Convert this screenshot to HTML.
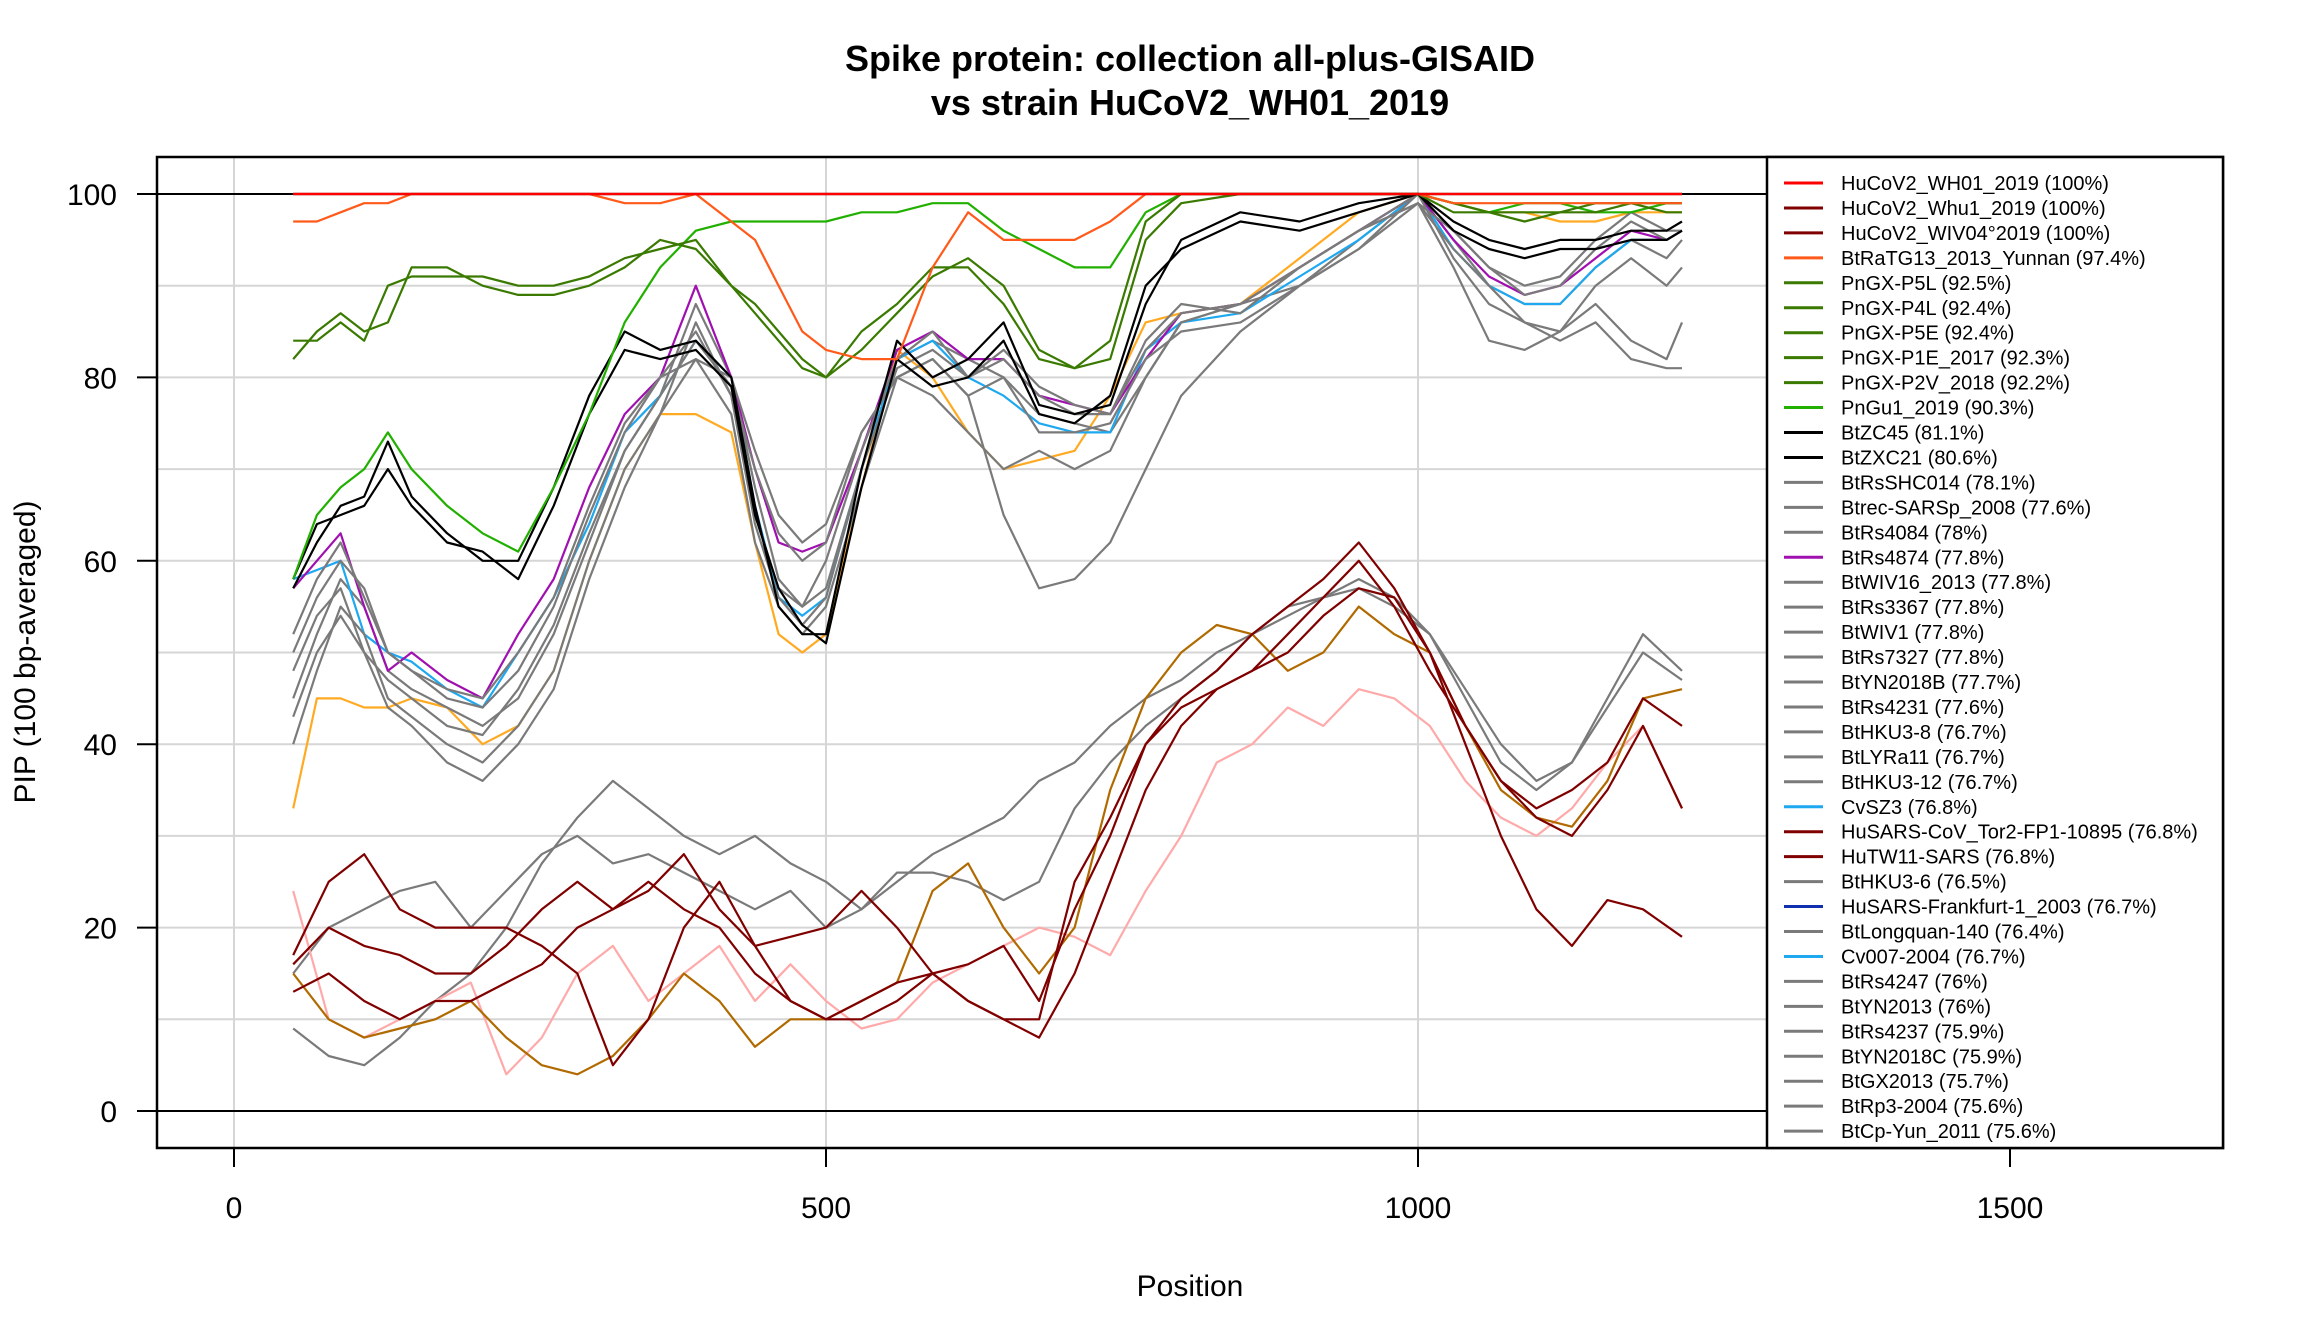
<!DOCTYPE html>
<html><head><meta charset="utf-8"><title>Spike protein PIP</title>
<style>
html,body{margin:0;padding:0;background:#fff;}
svg{display:block;font-family:"Liberation Sans",Arial,sans-serif;}
</style></head>
<body>
<svg id="chart" width="2304" height="1344" viewBox="0 0 2304 1344" xmlns="http://www.w3.org/2000/svg">
  <rect x="0" y="0" width="2304" height="1344" fill="#fff"/>
  <text x="1190" y="71" text-anchor="middle" font-size="36" font-weight="bold">Spike protein: collection all-plus-GISAID</text>
  <text x="1190" y="115" text-anchor="middle" font-size="36" font-weight="bold">vs strain HuCoV2_WH01_2019</text>
  <g id="grid"></g>
  <g id="series"></g>
  <g id="axes"></g>
  <g id="legend"></g>
  <text x="1190" y="1296" text-anchor="middle" font-size="30">Position</text>
  <text x="0" y="0" transform="translate(35,652) rotate(-90)" text-anchor="middle" font-size="30">PIP (100 bp-averaged)</text>
</svg>
<script>
// ---- data ----
const xTicks = [0, 500, 1000, 1500];
const yTicks = [0, 20, 40, 60, 80, 100];
const gridX = [0, 500, 1000, 1500];
const gridY = [10, 20, 30, 40, 50, 60, 70, 80, 90, 100];

const upperPos = [50,70,90,110,130,150,180,210,240,270,300,330,360,390,420,440,460,480,500,530,560,590,620,650,680,710,740,770,800,850,900,950,1000,1030,1060,1090,1120,1150,1180,1210,1223];
const lowerPos = [50,80,110,140,170,200,230,260,290,320,350,380,410,440,470,500,530,560,590,620,650,680,710,740,770,800,830,860,890,920,950,980,1010,1040,1070,1100,1130,1160,1190,1223];
const flatPos = [50, 1223];

const valWH01 = [100, 100];
const valWhu1 = [100, 100];
const valWIV04 = [100, 100];
const valRaTG13 = [97,97,98,99,99,100,100,100,100,100,100,99,99,100,97,95,90,85,83,82,82,92,98,95,95,95,97,100,100,100,100,100,100,99,99,99,99,99,99,99,99];
const valPnGX1 = [82,85,87,85,86,92,92,90,89,89,90,92,95,94,90,88,85,82,80,85,88,92,92,88,82,81,82,95,99,100,100,100,100,99,98,98,98,99,99,99,99];
const valPnGX2 = [84,84,86,84,90,91,91,91,90,90,91,93,94,95,90,87,84,81,80,83,87,91,93,90,83,81,84,97,100,100,100,100,100,98,98,97,98,98,99,98,98];
const valPnGu1 = [58,65,68,70,74,70,66,63,61,68,76,86,92,96,97,97,97,97,97,98,98,99,99,96,94,92,92,98,100,100,100,100,100,99,98,99,99,98,98,99,99];
const valZC45 = [57,62,66,67,73,67,63,60,60,68,78,85,83,84,80,66,55,52,52,70,84,80,82,86,77,76,77,88,95,98,97,99,100,97,95,94,95,95,96,96,97];
const valZXC21 = [58,64,65,66,70,66,62,61,58,66,76,83,82,83,79,65,57,53,51,68,82,79,80,84,76,75,78,90,94,97,96,98,100,96,94,93,94,94,95,95,96];
const valGray1 = [45,52,58,55,48,46,44,42,45,52,62,72,78,88,80,68,58,55,57,70,82,84,82,80,76,75,74,80,86,88,90,95,100,95,90,88,88,92,95,93,95];
const valGray2 = [50,56,60,57,50,48,45,44,48,55,65,74,80,85,78,65,57,55,60,72,82,85,80,82,78,76,76,84,88,87,92,96,99,96,92,89,90,94,97,95,96];
const valGray3 = [40,48,55,52,45,43,40,38,42,48,60,70,76,82,76,62,55,52,55,68,80,82,78,80,74,74,75,82,85,86,90,94,100,93,88,86,85,90,93,90,92];
const valGray4 = [48,54,57,50,47,45,42,41,46,53,63,72,78,84,79,70,63,60,62,74,80,82,78,65,57,58,62,70,78,85,90,94,99,92,84,83,85,88,84,82,86];
const valGray5 = [52,58,62,56,50,48,46,45,50,56,66,75,80,82,80,72,65,62,64,74,80,78,74,70,72,70,72,80,86,88,92,96,99,94,90,86,84,86,82,81,81];
const valGray6 = [43,50,54,50,44,42,38,36,40,46,58,68,76,86,78,64,56,53,56,70,81,83,80,83,79,77,76,83,87,88,92,96,100,96,92,90,91,95,98,96,96];
const valRs4874 = [57,60,63,55,48,50,47,45,52,58,68,76,80,90,80,70,62,61,62,72,83,85,82,82,78,77,76,82,87,88,92,96,100,95,91,89,90,93,96,95,96];
const valCvSZ3 = [58,59,60,52,50,49,46,44,50,56,64,74,78,84,80,66,56,54,56,70,82,84,80,78,75,74,74,83,86,87,91,95,100,94,90,88,88,92,95,95,96];
const valOrange = [33,45,45,44,44,45,44,40,42,48,60,70,76,76,74,62,52,50,52,68,83,80,74,70,71,72,78,86,87,88,93,98,100,99,98,98,97,97,98,98,98];
const valTor2 = [17,25,28,22,20,20,20,18,15,5,10,20,25,18,12,10,10,12,15,12,10,10,25,32,40,45,48,52,55,58,62,57,50,40,30,22,18,23,22,19];
const valTW11 = [13,15,12,10,12,12,14,16,20,22,25,22,20,15,12,10,12,14,15,12,10,8,15,25,35,42,46,48,50,54,57,56,50,42,36,32,30,35,42,33];
const valDR3 = [16,20,18,17,15,15,18,22,25,22,24,28,22,18,19,20,24,20,15,16,18,12,22,30,40,44,46,48,52,56,60,55,48,42,36,33,35,38,45,42];
const valBrown = [15,10,8,9,10,12,8,5,4,6,10,15,12,7,10,10,12,14,24,27,20,15,20,35,45,50,53,52,48,50,55,52,50,42,35,32,31,36,45,46];
const valPink = [24,10,8,10,12,14,4,8,15,18,12,15,18,12,16,12,9,10,14,16,18,20,19,17,24,30,38,40,44,42,46,45,42,36,32,30,33,38,42,33];
const valGrayL1 = [9,6,5,8,12,15,20,27,32,36,33,30,28,30,27,25,22,25,28,30,32,36,38,42,45,47,50,52,54,56,58,56,52,45,38,35,38,45,52,48];
const valGrayL2 = [15,20,22,24,25,20,24,28,30,27,28,26,24,22,24,20,22,26,26,25,23,25,33,38,42,45,48,52,55,56,57,55,52,46,40,36,38,44,50,47];

const legendLabels = ["HuCoV2_WH01_2019 (100%)","HuCoV2_Whu1_2019 (100%)","HuCoV2_WIV04°2019 (100%)","BtRaTG13_2013_Yunnan (97.4%)","PnGX-P5L (92.5%)","PnGX-P4L (92.4%)","PnGX-P5E (92.4%)","PnGX-P1E_2017 (92.3%)","PnGX-P2V_2018 (92.2%)","PnGu1_2019 (90.3%)","BtZC45 (81.1%)","BtZXC21 (80.6%)","BtRsSHC014 (78.1%)","Btrec-SARSp_2008 (77.6%)","BtRs4084 (78%)","BtRs4874 (77.8%)","BtWIV16_2013 (77.8%)","BtRs3367 (77.8%)","BtWIV1 (77.8%)","BtRs7327 (77.8%)","BtYN2018B (77.7%)","BtRs4231 (77.6%)","BtHKU3-8 (76.7%)","BtLYRa11 (76.7%)","BtHKU3-12 (76.7%)","CvSZ3 (76.8%)","HuSARS-CoV_Tor2-FP1-10895 (76.8%)","HuTW11-SARS (76.8%)","BtHKU3-6 (76.5%)","HuSARS-Frankfurt-1_2003 (76.7%)","BtLongquan-140 (76.4%)","Cv007-2004 (76.7%)","BtRs4247 (76%)","BtYN2013 (76%)","BtRs4237 (75.9%)","BtYN2018C (75.9%)","BtGX2013 (75.7%)","BtRp3-2004 (75.6%)","BtCp-Yun_2011 (75.6%)"];
const C = {red:"#ff0000", dred:"#800000", ored:"#ff5a1a", dgreen:"#3a7a00", bgreen:"#22b000", black:"#000000", gray:"#7a7a7a", purple:"#a010b0", blue:"#1ea8f0", navy:"#1030b0", orange:"#ffaa22", brown:"#b06a00", pink:"#ffaaaa"};
const legendColors = [C.red,C.dred,C.dred,C.ored,C.dgreen,C.dgreen,C.dgreen,C.dgreen,C.dgreen,C.bgreen,C.black,C.black,C.gray,C.gray,C.gray,C.purple,C.gray,C.gray,C.gray,C.gray,C.gray,C.gray,C.gray,C.gray,C.gray,C.blue,C.dred,C.dred,C.gray,C.navy,C.gray,C.blue,C.gray,C.gray,C.gray,C.gray,C.gray,C.gray,C.gray];

// draw order: bottom first
const seriesList = [
  {name:"series-btgray-low-1", pos:lowerPos, val:valGrayL1, color:C.gray},
  {name:"series-btgray-low-2", pos:lowerPos, val:valGrayL2, color:C.gray},
  {name:"series-pink", pos:lowerPos, val:valPink, color:C.pink},
  {name:"series-brown", pos:lowerPos, val:valBrown, color:C.brown},
  {name:"series-husars-3", pos:lowerPos, val:valDR3, color:C.dred},
  {name:"series-hutw11-sars", pos:lowerPos, val:valTW11, color:C.dred},
  {name:"series-husars-tor2", pos:lowerPos, val:valTor2, color:C.dred},
  {name:"series-orange", pos:upperPos, val:valOrange, color:C.orange},
  {name:"series-btgray-1", pos:upperPos, val:valGray1, color:C.gray},
  {name:"series-cvsz3", pos:upperPos, val:valCvSZ3, color:C.blue},
  {name:"series-btrs4874", pos:upperPos, val:valRs4874, color:C.purple},
  {name:"series-btgray-2", pos:upperPos, val:valGray2, color:C.gray},
  {name:"series-btgray-3", pos:upperPos, val:valGray3, color:C.gray},
  {name:"series-btgray-4", pos:upperPos, val:valGray4, color:C.gray},
  {name:"series-btgray-5", pos:upperPos, val:valGray5, color:C.gray},
  {name:"series-btgray-6", pos:upperPos, val:valGray6, color:C.gray},
  {name:"series-btzxc21", pos:upperPos, val:valZXC21, color:C.black},
  {name:"series-btzc45", pos:upperPos, val:valZC45, color:C.black},
  {name:"series-pngu1", pos:upperPos, val:valPnGu1, color:C.bgreen},
  {name:"series-pngx-a", pos:upperPos, val:valPnGX1, color:C.dgreen},
  {name:"series-pngx-b", pos:upperPos, val:valPnGX2, color:C.dgreen},
  {name:"series-ratg13", pos:upperPos, val:valRaTG13, color:C.ored},
  {name:"series-wiv04", pos:flatPos, val:valWIV04, color:C.dred},
  {name:"series-whu1", pos:flatPos, val:valWhu1, color:C.dred},
  {name:"series-wh01", pos:flatPos, val:valWH01, color:C.red}
];

// ---- scales ----
const X = u => 234 + u * 1.184;
const Y = v => 1111 - v * 9.17;
const NS = "http://www.w3.org/2000/svg";
function mk(tag, attrs, parent){ const e=document.createElementNS(NS,tag); for(const k in attrs) e.setAttribute(k,attrs[k]); parent.appendChild(e); return e; }

const gGrid = document.getElementById('grid');
gridX.forEach(u=>{
  const l = mk('line',{x1:X(u),x2:X(u),y1:157,y2:1148,stroke:"#d6d6d6","stroke-width":2},gGrid);
  
  
});
gridY.forEach(v=>{
  const l = mk('line',{x1:157,x2:2223,y1:Y(v),y2:Y(v),stroke:"#d6d6d6","stroke-width":2},gGrid);
  
  
});
[0,100].forEach(v=>{
  const l = mk('line',{x1:157,x2:2223,y1:Y(v),y2:Y(v),stroke:"#000","stroke-width":2},gGrid);
  
  
});

const gS = document.getElementById('series');
seriesList.forEach(s=>{
  const pts = s.pos.map((p,i)=>X(p).toFixed(1)+","+Y(s.val[i]).toFixed(1)).join(" ");
  const pl = mk('polyline',{points:pts,fill:"none",stroke:s.color,"stroke-width":2.2,"stroke-linejoin":"round"},gS);
  
  
});

const gA = document.getElementById('axes');
const frame = mk('rect',{x:157,y:157,width:2066,height:991,fill:"none",stroke:"#000","stroke-width":2.5},gA);


yTicks.forEach(v=>{
  const t = mk('line',{x1:137,x2:157,y1:Y(v),y2:Y(v),stroke:"#000","stroke-width":2},gA);
  
  
  const tx = mk('text',{x:117,y:Y(v)+11,"text-anchor":"end","font-size":30},gA);
  tx.textContent = String(v);
  
  
});
xTicks.forEach(u=>{
  const t = mk('line',{x1:X(u),x2:X(u),y1:1148,y2:1167,stroke:"#000","stroke-width":2},gA);
  
  
  const tx = mk('text',{x:X(u),y:1218,"text-anchor":"middle","font-size":30},gA);
  tx.textContent = String(u);
  
  
});

const gL = document.getElementById('legend');
const lbox = mk('rect',{x:1767,y:157,width:456,height:991,fill:"#fff",stroke:"#000","stroke-width":2.5},gL);


legendLabels.forEach((lab,i)=>{
  const y = 183 + i*24.95;
  const g = mk('g',{},gL);
  
  
  mk('line',{x1:1784,x2:1823,y1:y,y2:y,stroke:legendColors[i],"stroke-width":3},g);
  const t = mk('text',{x:1841,y:y+7,"font-size":20},g);
  t.textContent = lab;
});
</script>
</body></html>
